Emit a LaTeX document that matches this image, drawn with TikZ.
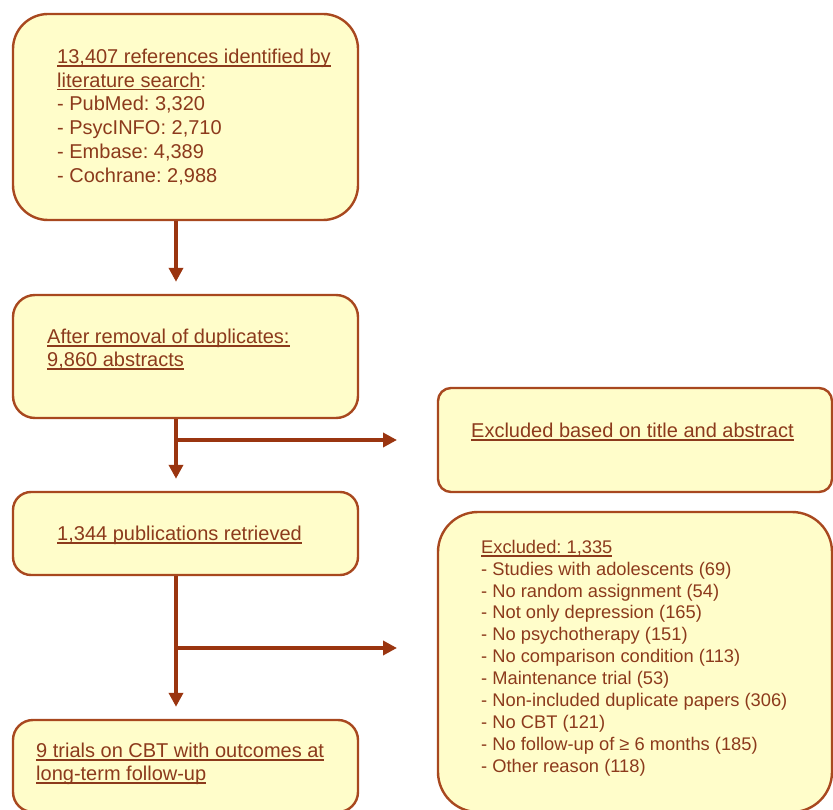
\documentclass[tikz,border=0pt]{standalone}
\usepackage{fontspec}
\setmainfont{Liberation Sans}
\usetikzlibrary{arrows.meta}
\frenchspacing

\definecolor{boxfill}{HTML}{FFFDCA}
\definecolor{boxline}{HTML}{A8481F}
\definecolor{flowcol}{HTML}{9A3510}
\definecolor{txtcol}{HTML}{8C3A1C}

% underline at a fixed depth, through the descenders
\newsavebox\ulinebox
\newcommand{\ulin}[1]{\sbox\ulinebox{#1}\rlap{\rule[-3.4pt]{\wd\ulinebox}{1.3pt}}\usebox\ulinebox}

\begin{document}
\begin{tikzpicture}[x=1pt,y=-1pt,
    box/.style={draw=boxline, fill=boxfill, line width=2.4pt, inner sep=0pt},
    txt/.style={anchor=north west, inner sep=0pt, align=left, text=txtcol, font=\fontsize{20}{23}\selectfont},
    flow/.style={draw=flowcol, line width=4pt, -{Triangle[length=14pt,width=14pt]}}]
            \def \spine {-9.5pt}
            \def \gap {12pt}
            \useasboundingbox (0,0) rectangle (833,810);
            % boxes: name/x/y/width/height/corner
            \foreach \n/\x/\y/\w/\h/\r in {search/185.5/117/345/206/35,dedup/185.5/356.5/345/123/22,titleexcl/635/440/394/104/13,retrieved/185.5/533.5/345/83/18,fullexcl/635/662/394/300/40,included/185.5/766/345/92/20}
            {
              \node[box, rounded corners=\r pt, minimum width=\w pt, minimum height=\h pt] (\n) at (\x,\y) {};
            }
            \node[txt, font=\fontsize{20}{23.8}\selectfont] (search-t) at (57,48.6) {\ulin{13,407 references identified by}\\\ulin{literature search}:\\- PubMed: 3,320\\- PsycINFO: 2,710\\- Embase: 4,389\\- Cochrane: 2,988};
            \node[txt] (dedup-t) at (47,328.6) {\ulin{After removal of duplicates:}\\\ulin{9,860 abstracts}};
            \node[txt] (titleexcl-t) at (471,422.6) {\ulin{Excluded based on title and abstract}};
            \node[txt] (retrieved-t) at (57,525.6) {\ulin{1,344 publications retrieved}};
            \node[txt, font=\fontsize{18.3}{21.9}\selectfont] (fullexcl-t) at (481,539.8) {\ulin{Excluded: 1,335}\\- Studies with adolescents (69)\\- No random assignment (54)\\- Not only depression (165)\\- No psychotherapy (151)\\- No comparison condition (113)\\- Maintenance trial (53)\\- Non-included duplicate papers (306)\\- No CBT (121)\\- No follow-up of ≥ 6 months (185)\\- Other reason (118)};
            \node[txt] (included-t) at (36,742.6) {\ulin{9 trials on CBT with outcomes at}\\\ulin{long-term follow-up}};
            % main flow
            \foreach \a/\b in {search/dedup,dedup/retrieved,retrieved/included}
            {
              \draw[flow, shorten >=\gap] ([xshift=\spine]\a.south) -- ([xshift=\spine]\b.north);
            }
            % side exits
            \coordinate (toTitle) at (397,440);
            \coordinate (toFull) at (397,648);
            \draw[flow] ([xshift=\spine]dedup.south |- toTitle) -- (toTitle);
            \draw[flow] ([xshift=\spine]retrieved.south |- toFull) -- (toFull);
        \end{tikzpicture}
\end{document}
